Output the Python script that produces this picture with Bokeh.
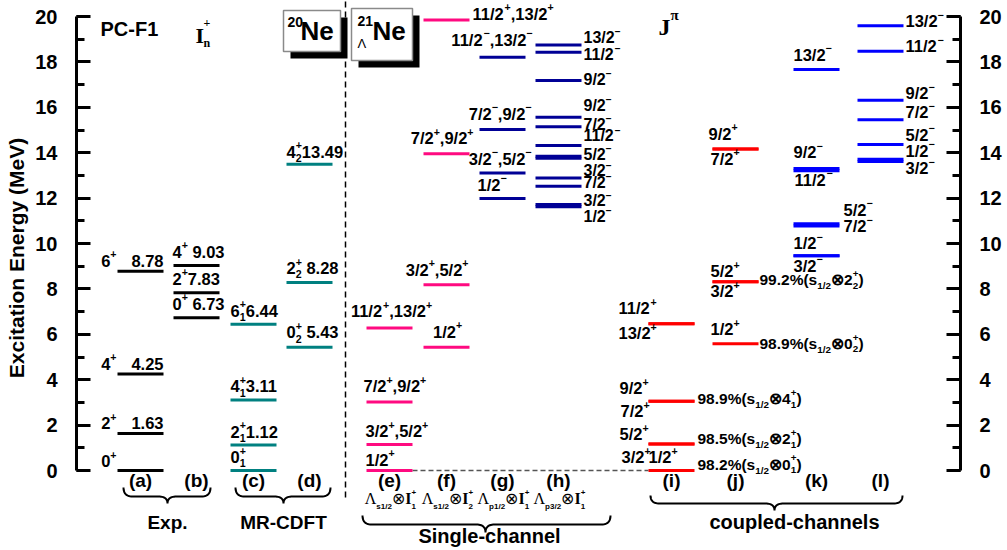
import numpy as np
from bokeh.plotting import figure
from bokeh.models import Range1d, LinearAxis, SingleIntervalTicker, ColumnDataSource
from bokeh.core.properties import value, field
from bokeh.embed import file_html
from bokeh.resources import INLINE

# ---------------- level energies (MeV) and spin-parity labels ----------------
# 20Ne, experiment
exp_a_E = [0.0, 1.63, 4.25, 8.78]
exp_a_J = ["0^{+}", "2^{+}", "4^{+}", "6^{+}"]
exp_b_E = [6.73, 7.83, 9.03]
exp_b_J = ["0^{+}", "2^{+}", "4^{+}"]
# 20Ne, MR-CDFT (PC-F1)
mr_c_E = [0.0, 1.12, 3.11, 6.44]
mr_c_J = ["0^{+}_{1}", "2^{+}_{1}", "4^{+}_{1}", "6^{+}_{1}"]
mr_d_E = [5.43, 8.28, 13.49]
mr_d_J = ["0^{+}_{2}", "2^{+}_{2}", "4^{+}_{2}"]
# 21-Lambda-Ne, single channel
sc_e_E = [0.0, 1.15, 3.02, 6.28]
sc_e_J = ["1/2^{+}", "3/2^{+},5/2^{+}", "7/2^{+},9/2^{+}", "11/2^{+},13/2^{+}"]
sc_f_E = [5.43, 8.18, 13.95, 19.85]
sc_f_J = ["1/2^{+}", "3/2^{+},5/2^{+}", "7/2^{+},9/2^{+}", "11/2^{+},13/2^{+}"]
sc_g_E = [11.98, 13.11, 15.02, 18.21]
sc_g_J = ["1/2^{−}", "3/2^{−},5/2^{−}", "7/2^{−},9/2^{−}", "11/2^{−},13/2^{−}"]
sc_h_E = [11.62, 11.72, 12.52, 12.89, 13.76, 13.84, 14.32, 15.14, 15.56, 17.18, 18.43, 18.74]
sc_h_J = ["1/2^{−}", "3/2^{−}", "7/2^{−}", "3/2^{−}", "5/2^{−}", "5/2^{−}", "11/2^{−}",
          "7/2^{−}", "9/2^{−}", "9/2^{−}", "11/2^{−}", "13/2^{−}"]
# 21-Lambda-Ne, coupled channels
cc_i_E = [0.0, 1.17, 1.17, 3.05, 3.05, 6.46, 6.46]
cc_i_J = ["1/2^{+}", "3/2^{+}", "5/2^{+}", "7/2^{+}", "9/2^{+}", "13/2^{+}", "11/2^{+}"]
cc_j_E = [5.58, 8.31, 8.31, 14.16, 14.16]
cc_j_J = ["1/2^{+}", "3/2^{+}", "5/2^{+}", "7/2^{+}", "9/2^{+}"]
cc_k_E = [9.46, 9.46, 10.77, 10.87, 13.20, 13.30, 17.67]
cc_k_J = ["1/2^{−}", "3/2^{−}", "7/2^{−}", "5/2^{−}", "11/2^{−}", "9/2^{−}", "13/2^{−}"]
cc_l_E = [13.61, 13.71, 14.36, 15.45, 16.31, 18.47, 19.59]
cc_l_J = ["3/2^{−}", "1/2^{−}", "5/2^{−}", "7/2^{−}", "9/2^{−}", "11/2^{−}", "13/2^{−}"]
# dominant component (%) of selected coupled-channel states
cc_i_weight = [98.2, 98.5, 98.9]
cc_i_core = ["0^{+}_{1}", "2^{+}_{1}", "4^{+}_{1}"]
cc_i_state = [0, 1, 3]
cc_j_weight = [98.9, 99.2]
cc_j_core = ["0^{+}_{2}", "2^{+}_{2}"]
cc_j_state = [0, 1]

column_tags = ["(a)", "(b)", "(c)", "(d)", "(e)", "(f)", "(g)", "(h)", "(i)", "(j)", "(k)", "(l)"]
channel_orbit = ["s1/2", "s1/2", "p1/2", "p3/2"]
channel_core = ["1", "2", "1", "1"]

# ---------------- canvas geometry ----------------
W, H = 1007, 550
LEFT, RIGHT = 76, 47
PX = 22.7                      # pixels per MeV
Y_MAX = 20 + 16 / PX
Y_MIN = Y_MAX - H / PX
LIFT = 0.45                    # baseline correction of the text glyph, in em
LBL = 16.5                     # size of the level labels


def row(py):
    """canvas row (px from top) -> energy coordinate"""
    return Y_MAX - np.asarray(py, dtype=float) / PX


COLS = dict(a=(117, 163), b=(173, 219), c=(230, 276), d=(286, 332),
            e=(366, 412), f=(423, 469), g=(479, 525), h=(535, 581),
            i=(648, 694), j=(712, 758), k=(793, 839), l=(857, 903))

BLACK, TEAL, PINK, NAVY, RED, BLUE = "#000000", "#008080", "#FF0A80", "#000096", "#FF0000", "#0000FF"

p = figure(width=W, height=H, x_range=Range1d(LEFT, W - RIGHT), y_range=Range1d(Y_MIN, Y_MAX),
           output_backend="svg", toolbar_location=None, x_axis_location=None,
           min_border_left=LEFT, min_border_right=RIGHT, min_border_top=0, min_border_bottom=0)
p.grid.visible = False
p.outline_line_color = None
p.background_fill_color = "white"
p.border_fill_color = "white"

SANS, SERIF = "Liberation Sans", "Liberation Serif"


def style_axis(ax):
    ax.bounds = (0, 20)
    ax.ticker = SingleIntervalTicker(interval=2, num_minor_ticks=2)
    ax.axis_line_width = 3
    ax.axis_line_color = "black"
    ax.major_tick_line_width = 3
    ax.major_tick_in = 14
    ax.major_tick_out = 0
    ax.minor_tick_line_width = 3
    ax.minor_tick_in = 8
    ax.minor_tick_out = 0
    ax.major_label_text_font = SANS
    ax.major_label_text_font_style = "bold"
    ax.major_label_text_font_size = "20px"
    ax.major_label_text_color = "black"
    ax.major_label_standoff = 19


yl = p.yaxis[0]
style_axis(yl)
# leading no-break spaces lift the centred title to the middle of the 0-20 MeV span
yl.axis_label = "\u00a0" * 6 + "Excitation Energy (MeV)"
yl.axis_label_text_font = SANS
yl.axis_label_text_font_style = "bold"
yl.axis_label_text_font_size = "21px"
yl.axis_label_text_color = "black"
yl.axis_label_standoff = 4
yr = LinearAxis()
style_axis(yr)
p.add_layout(yr, "right")

# ---------------- rich text helpers (super/subscripts) ----------------
ARIAL_B = {" ": .278, "%": .889, "(": .333, ")": .333, "+": .584, ",": .278, "-": .333,
           ".": .278, "/": .278, "−": .584, "⊗": .84, "Λ": .722}
ARIAL_B.update({d: .556 for d in "0123456789"})
ARIAL_B.update(dict(zip("abcdefghijklmnopqrstuvwxyz",
                        [.556, .611, .556, .611, .556, .333, .611, .611, .278, .278, .556, .278, .889,
                         .611, .611, .611, .611, .389, .556, .333, .611, .556, .778, .556, .556, .5])))
TIMES_B = {"I": .389, "J": .5, "n": .556, "+": .57, "Λ": .722, "π": .549}
TIMES_B.update({d: .5 for d in "0123456789"})
FONTS = {"SB": (SANS, "bold"), "SN": (SANS, "normal"), "RB": (SERIF, "bold"), "RN": (SERIF, "normal")}

BUCKETS = {}


def tw(text, fk):
    table = TIMES_B if fk.startswith("R") else ARIAL_B
    return sum(table.get(c, 0.6) for c in text)


def emit(x, y, text, size, fk, color, align="left"):
    b = BUCKETS.setdefault((fk, align), dict(x=[], y=[], text=[], fs=[], col=[]))
    b["x"].append(float(x))
    b["y"].append(float(y) + LIFT * size / PX)
    b["text"].append(text)
    b["fs"].append(f"{size:.1f}px")
    b["col"].append(color)


def parse(markup, fk="SB"):
    parts, buf, i = [], "", 0
    while i < len(markup):
        c = markup[i]
        if c in "^_" and i + 1 < len(markup) and markup[i + 1] == "{":
            if buf:
                parts.append((buf, "n", fk))
                buf = ""
            j = markup.index("}", i)
            parts.append((markup[i + 2:j], "sup" if c == "^" else "sub", fk))
            i = j + 1
        else:
            buf += c
            i += 1
    if buf:
        parts.append((buf, "n", fk))
    return parts


def lay(parts, size, sup=0.55, sub=0.22, ss=0.64):
    out, x, k = [], 0.0, 0
    while k < len(parts):
        t, kind, fk = parts[k]
        if kind == "n":
            body = t.lstrip(" ")
            x += (len(t) - len(body)) * tw(" ", fk) * size   # leading blanks become a gap
            out.append((x, 0.0, body, size, fk))
            x += tw(body, fk) * size
        else:
            grp = [parts[k]]
            if k + 1 < len(parts) and parts[k + 1][1] not in ("n", kind):
                grp.append(parts[k + 1])
                k += 1
            s2 = size * ss
            w = 0.0
            for t2, kind2, fk2 in grp:
                dy = size * sup if kind2 == "sup" else -size * sub
                out.append((x, dy, t2, s2, fk2))
                w = max(w, tw(t2, fk2) * s2)
            x += w
        k += 1
    return out, x


def rich(x, y, parts, size=LBL, align="left", color="black", **kw):
    if isinstance(parts, str):
        parts = parse(parts)
    pieces, w = lay(parts, size, **kw)
    x0 = x - (w if align == "right" else w / 2 if align == "center" else 0)
    for dx, dy, t, s, fk in pieces:
        emit(x0 + dx, y + dy / PX, t, s, fk, color)


def up(E, dy):
    """baseline dy pixels above an energy level"""
    return E + dy / PX


# ---------------- guide lines and frames ----------------
p.segment(x0=[345], y0=[row(497)], x1=[345], y1=[Y_MAX], line_color="black",
          line_width=1.5, line_dash="6 4")
p.segment(x0=[COLS["e"][1]], y0=[sc_e_E[0]], x1=[COLS["i"][0]], y1=[cc_i_E[0]],
          line_color="#555555", line_width=1.5, line_dash="5 3")

box_l = [283, 351]
box_r = [340, 412]
box_t = [10, 8]
box_b = [51, 60]
p.quad(left=[v + 7 for v in box_l], right=[v + 7 for v in box_r],
       top=row([v + 7 for v in box_t]), bottom=row([v + 7 for v in box_b]),
       fill_color="black", line_color=None)
p.quad(left=box_l, right=box_r, top=row(box_t), bottom=row(box_b),
       fill_color="white", line_color="#8a8a8a", line_width=1.5)
emit(287, row(28), "20", 14, "SB", "black")
emit(300, row(42), "Ne", 26, "SB", "black")
emit(357, row(27), "21", 14, "SB", "black")
emit(372, row(42), "Ne", 26, "SB", "black")
emit(357, row(49), "Λ", 13, "SN", "black")

# ---------------- level lines ----------------
def levels(col, energies, color):
    x0, x1 = COLS[col]
    src = ColumnDataSource(dict(E=energies, x0=[x0] * len(energies), x1=[x1] * len(energies)))
    p.segment(x0="x0", y0="E", x1="x1", y1="E", source=src, line_color=color,
              line_width=3, line_cap="butt")


for col, E, c in [("a", exp_a_E, BLACK), ("b", exp_b_E, BLACK), ("c", mr_c_E, TEAL), ("d", mr_d_E, TEAL),
                  ("e", sc_e_E, PINK), ("f", sc_f_E, PINK), ("g", sc_g_E, NAVY), ("h", sc_h_E, NAVY),
                  ("i", cc_i_E, RED), ("j", cc_j_E, RED), ("k", cc_k_E, BLUE), ("l", cc_l_E, BLUE)]:
    levels(col, E, c)

# ---------------- level labels ----------------
for J, E in zip(exp_a_J, exp_a_E):
    dy = 2 if E == 0 else 3
    rich(116, up(E, dy), J, align="right")
    if E > 0:
        rich(163, up(E, dy), f"{E:.2f}", align="right")
for J, E in zip(exp_b_J, exp_b_E):
    rich(172, up(E, 6.5), f"{J} {E:.2f}" if J != "2^{+}" else f"{J}{E:.2f}")
for J, E in zip(mr_c_J, mr_c_E):
    rich(230, up(E, 6), f"{J}{E:.2f}" if E > 0 else J)
for J, E, dy in zip(mr_d_J, mr_d_E, [7.5, 7, 5]):
    rich(286, up(E, dy), f"{J} {E:.2f}" if E < 10 else f"{J}{E:.2f}")


def place(J, E, spec, size=LBL):
    for idx, x, align, dy in spec:
        rich(x, up(E[idx], dy), J[idx], size=size, align=align)


place(sc_e_J, sc_e_E, [(0, 365, "left", 3.3), (1, 365, "left", 5.7), (2, 363, "left", 8.3),
                       (3, 391, "center", 9.3)])
place(sc_f_J, sc_f_E, [(0, 447, "center", 8.3), (1, 468, "right", 7.7), (2, 473, "right", 8.3),
                       (3, 472, "left", -1.4)])
place(sc_g_J, sc_g_E, [(0, 477, "left", 6.3), (1, 531, "right", 6.6), (2, 531, "right", 8.3),
                       (3, 532, "right", 10)])
place(sc_h_J, sc_h_E, [(11, 583, "left", 0.4), (10, 583, "left", -9.3), (9, 583, "left", -6),
                       (8, 583, "left", 4.7), (7, 583, "left", -4.7), (6, 583, "left", 2.3),
                       (4, 583, "left", -3.4), (3, 583, "left", -0.3), (2, 583, "left", -3.5),
                       (1, 583, "left", -3.7), (0, 583, "left", -17.1)], size=16)
place(cc_i_J, cc_i_E, [(0, 648, "left", 6), (1, 621, "left", -20.6), (2, 619, "left", 2.3),
                       (3, 620, "left", -17.6), (4, 619, "left", 5.7), (5, 618, "left", -16.7),
                       (6, 618, "left", 8.3)])
place(cc_j_J, cc_j_E, [(0, 710, "left", 7.3), (1, 710, "left", -17), (2, 710, "left", 3),
                       (3, 710, "left", -17), (4, 708, "left", 8)])
place(cc_k_J, cc_k_E, [(0, 793, "left", 5.3), (1, 793, "left", -17.4), (2, 843, "left", -7.8),
                       (3, 843, "left", 6.6), (4, 794, "left", -16.3), (5, 793, "left", 8.8),
                       (6, 793, "left", 7.3)])
place(cc_l_J, cc_l_E, [(0, 905, "left", -14), (1, 905, "left", 1.1), (2, 905, "left", 2.3),
                       (3, 905, "left", 0), (4, 905, "left", -0.3), (5, 905, "left", -2.6),
                       (6, 905, "left", -3)])

# composition of the coupled-channel states
for w, core, s, dy in zip(cc_i_weight, cc_i_core, cc_i_state, [-0.7, -1.7, -4.3]):
    rich(697, up(cc_i_E[s], dy), f"{w:.1f}%(s_{{1/2}}⊗{core})", size=15.5)
for w, core, s, dy in zip(cc_j_weight, cc_j_core, cc_j_state, [-6.7, -4.7]):
    rich(759, up(cc_j_E[s], dy), f"{w:.1f}%(s_{{1/2}}⊗{core})", size=15.5)

# ---------------- headers ----------------
emit(100, row(37), "PC-F1", 20, "SB", "black")
emit(195, row(45), "I", 22, "RB", "black")
emit(203, row(28), "+", 12, "RB", "black")
emit(203, row(48), "n", 12, "RB", "black")
emit(658, row(37), "J", 24, "RB", "black")
emit(670, row(21), "π", 15, "RB", "black")

# ---------------- column tags, channels and braces ----------------
centers = [(a + b) / 2 for a, b in COLS.values()]
for tag, xc in zip(column_tags, centers):
    emit(xc, row(489), tag, 19, "SB", "black", align="center")
for orb, core, xc in zip(channel_orbit, channel_core, centers[4:8]):
    parts = [("Λ", "n", "RN"), (orb, "sub", "SB"), ("⊗", "n", "SN"), ("I", "n", "RB"),
             ("+", "sup", "SB"), (core, "sub", "SB")]
    rich(xc + 1, row(505), parts, size=16, align="center", sup=0.6, sub=0.3, ss=0.5)

t = np.linspace(0, 1, 14)[:, None]


def qb(p0, p1, p2):
    p0, p1, p2 = (np.array(v, dtype=float) for v in (p0, p1, p2))
    return (1 - t) ** 2 * p0 + 2 * (1 - t) * t * p1 + t ** 2 * p2


def brace(x0, x1, xc, top, body, tip, r=9):
    pts = np.vstack([qb((x0, top), (x0, body), (x0 + r, body)),
                     qb((xc - r, body), (xc, body), (xc, tip)),
                     qb((xc, tip), (xc, body), (xc + r, body)),
                     qb((x1 - r, body), (x1, body), (x1, top))])
    p.line(pts[:, 0], row(pts[:, 1]), line_color="black", line_width=2)


brace(123, 210, 167, 487, 496, 503)
brace(235, 330, 283, 487, 496, 503)
brace(362, 610, 485, 515, 524, 532)
brace(650, 902, 774, 495, 503, 510)

emit(167, row(531), "Exp.", 19, "SB", "black", align="center")
emit(283, row(531), "MR-CDFT", 19, "SB", "black", align="center")
emit(489, row(544), "Single-channel", 20, "SB", "black", align="center")
emit(794, row(530), "coupled-channels", 20, "SB", "black", align="center")

# ---------------- render the text pieces ----------------
for (fk, al), data in BUCKETS.items():
    fam, sty = FONTS[fk]
    p.text(x="x", y="y", text="text", source=ColumnDataSource(data), text_font=value(fam),
           text_font_style=sty, text_font_size=field("fs"), text_color=field("col"),
           text_align=al, text_baseline="alphabetic")

open("out.html", "w").write(file_html(p, INLINE))
